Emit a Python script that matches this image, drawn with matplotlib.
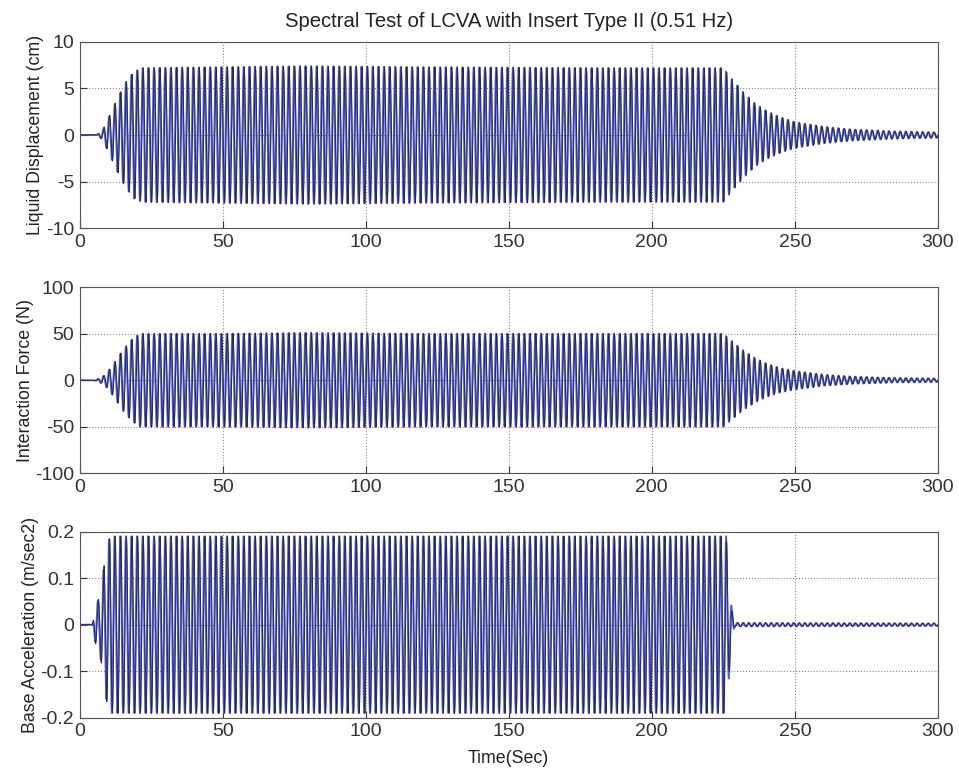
import numpy as np
import matplotlib.pyplot as plt

plt.rcParams['font.family'] = ['Liberation Sans', 'DejaVu Sans']

# excitation frequency (Hz) and sample step (s)
freq = 0.51
dt = 0.02

# envelope knots: time (s) and amplitude for each channel
disp_t = [0, 6, 8, 10, 13, 16, 19, 22, 50, 80, 120, 180, 225, 228, 232, 236, 240, 245, 250, 260, 270, 285, 300]
disp_a = [0, 0, 0.5, 1.8, 3.8, 5.6, 6.8, 7.2, 7.3, 7.4, 7.3, 7.2, 7.2, 6.0, 4.6, 3.4, 2.6, 1.9, 1.4, 0.9, 0.6, 0.4, 0.3]

force_t = [0, 5, 7, 9, 12, 15, 18, 21, 50, 80, 120, 180, 225, 228, 232, 236, 240, 245, 250, 260, 270, 285, 300]
force_a = [0, 0, 2, 6, 18, 32, 43, 50, 50, 51, 50, 50, 50, 42, 32, 24, 18, 13, 10, 6, 4, 2.5, 2]

acc_t = [0, 4.5, 5.5, 7, 8, 9, 10, 11, 50, 120, 180, 226, 226.5, 228, 229, 300]
acc_a = [0, 0, 0.04, 0.06, 0.1, 0.15, 0.18, 0.19, 0.19, 0.19, 0.19, 0.19, 0.15, 0.03, 0.004, 0.003]

time = np.arange(0, 300 + dt, dt)


def channel(knots_t, knots_a, lag):
    env = np.interp(time, knots_t, knots_a)
    return env * np.sin(2 * np.pi * freq * time - lag)


panels = [
    (disp_t, disp_a, 'Liquid Displacement (cm)', (-10, 10), [-10, -5, 0, 5, 10]),
    (force_t, force_a, 'Interaction Force (N)', (-100, 100), [-100, -50, 0, 50, 100]),
    (acc_t, acc_a, 'Base Acceleration (m/sec2)', (-0.2, 0.2), [-0.2, -0.1, 0, 0.1, 0.2]),
]

fig = plt.figure(figsize=(9.59, 7.76), dpi=100)
bottoms = [0.706, 0.390, 0.075]
for (kt, ka, label, ylim, yticks), b in zip(panels, bottoms):
    ax = fig.add_axes([0.083, b, 0.895, 0.240])
    ax.plot(time, channel(kt, ka, 0.0), color='#5060ea', lw=1.3)
    ax.plot(time, channel(kt, ka, 0.6), color='#2a2a44', lw=0.7)
    ax.set_xlim(0, 300)
    ax.set_ylim(*ylim)
    ax.set_yticks(yticks)
    ax.set_xticks([0, 50, 100, 150, 200, 250, 300])
    ax.set_yticklabels([('%g' % v) for v in yticks])
    ax.grid(True, ls=':', color='#888888', lw=0.8)
    ax.tick_params(direction='in', labelsize=14, length=5, colors='#333333', pad=4)
    for s in ax.spines.values():
        s.set_color('#555555')
    ax.set_ylabel(label, fontsize=12.8, color='#222222', labelpad=1)
    if b == bottoms[0]:
        ax.set_title('Spectral Test of LCVA with Insert Type II (0.51 Hz)', fontsize=14.6, color='#222222', pad=11)
    if b == bottoms[-1]:
        ax.set_xlabel('Time(Sec)', fontsize=12.8, color='#222222', labelpad=7)

fig.savefig('out.png', dpi=100)
